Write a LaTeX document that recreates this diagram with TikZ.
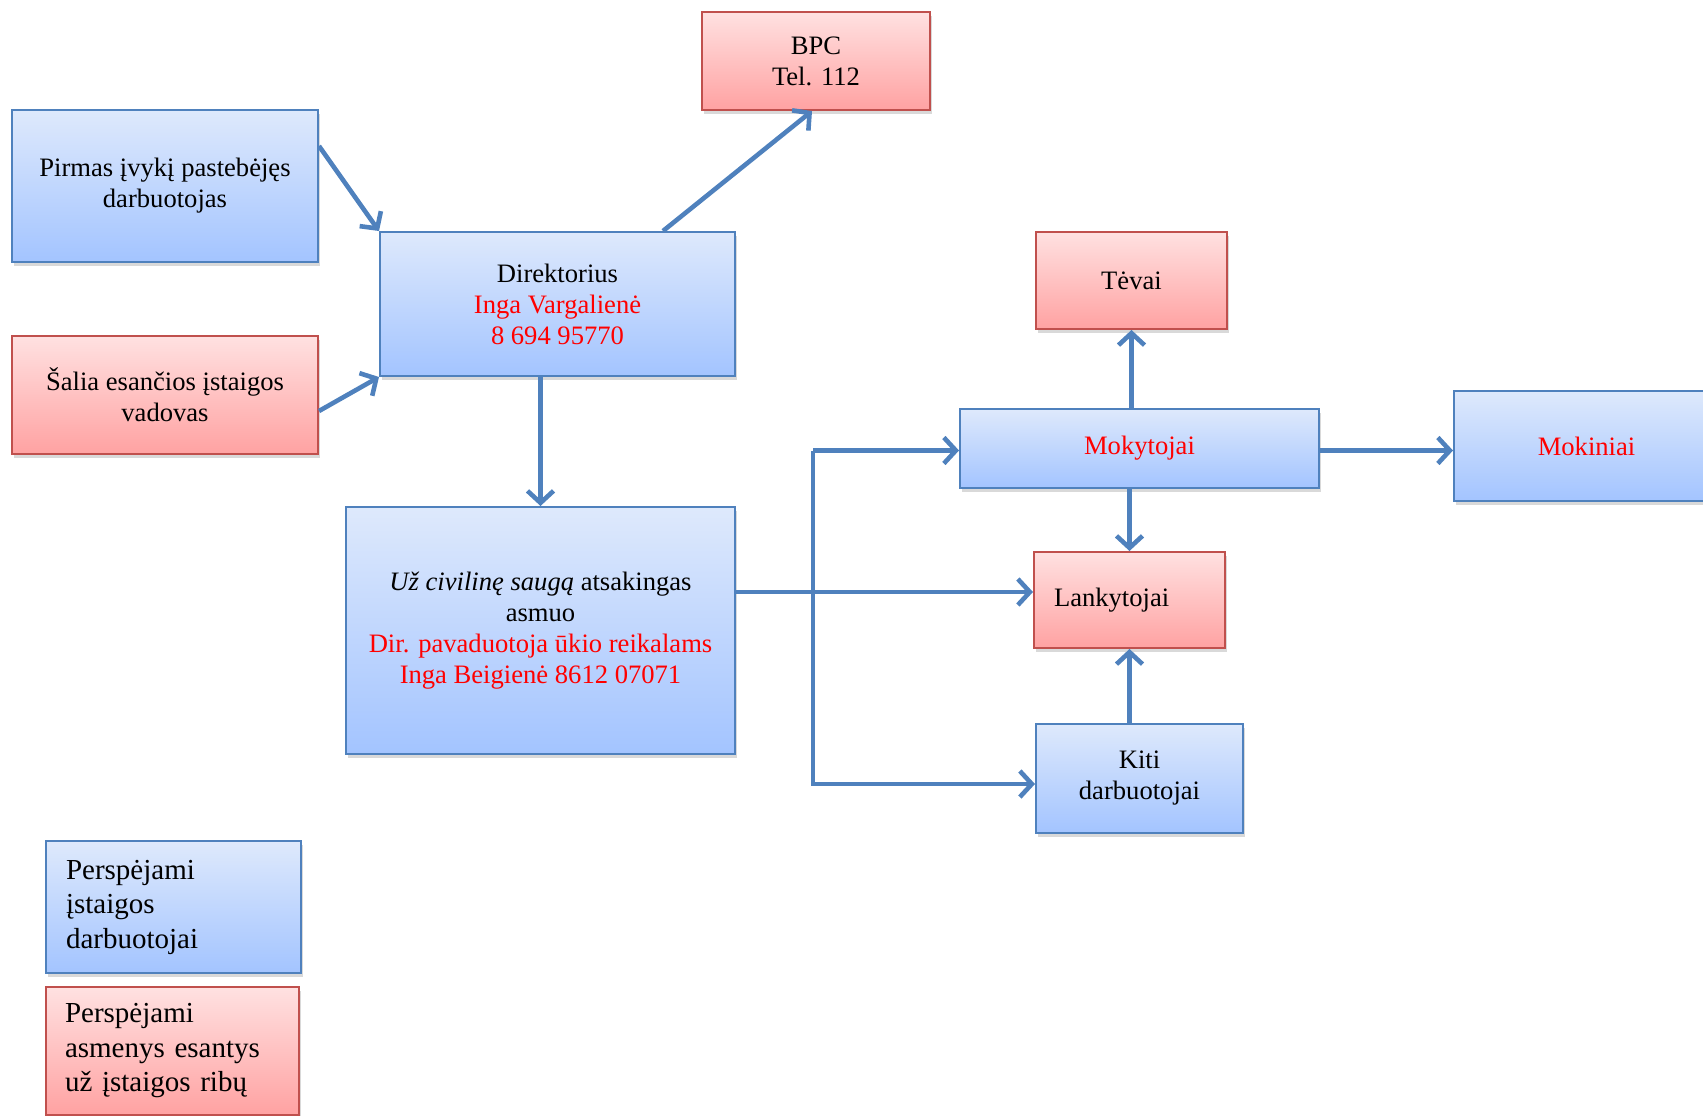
\documentclass[tikz,border=0pt]{standalone}
\usepackage{fontspec}
\setmainfont{Liberation Serif}
\usetikzlibrary{arrows.meta,shadows,calc}
\definecolor{bluefillt}{RGB}{222,233,252}
\definecolor{bluefillb}{RGB}{163,196,255}
\definecolor{blueline}{RGB}{79,129,189}
\definecolor{redfillt}{RGB}{255,225,225}
\definecolor{redfillb}{RGB}{255,162,162}
\definecolor{redline}{RGB}{192,80,77}
\definecolor{txtred}{RGB}{255,0,0}
\definecolor{arrowc}{RGB}{79,129,189}
\tikzset{
 box/.style={draw, line width=2pt, inner sep=0pt,
   drop shadow={opacity=0.3, shadow xshift=2pt, shadow yshift=-4pt},
   font=\fontsize{26.6}{31}\selectfont, align=center},
 bluebox/.style={box, draw=blueline, top color=bluefillt, bottom color=bluefillb},
 redbox/.style={box, draw=redline, top color=redfillt, bottom color=redfillb},
 legend/.style={font=\fontsize{29}{34.5}\selectfont, align=left, text width=215pt},
 arr/.style={draw=arrowc, line width=4.6pt, -{Straight Barb[length=12pt,width=26pt]}},
 sz/.style 2 args={minimum width=#1pt, minimum height=#2pt},
}
\begin{document}
\begin{tikzpicture}[x=1pt,y=-1pt]
\useasboundingbox (0,0) rectangle (1703,1116);
\clip (0,0) rectangle (1703,1116);
% boxes
\node[redbox, sz={228}{98}] (bpc) at (816,61) {BPC\\Tel. 112};
\node[bluebox, sz={306}{152}] (pirmas) at (165,186) {Pirmas įvykį pastebėjęs\\darbuotojas};
\node[bluebox, sz={355}{144}] (dir) at (557.5,304) {Direktorius\\\textcolor{txtred}{Inga Vargalienė}\\\textcolor{txtred}{8 694 95770}};
\node[redbox, sz={306}{118}] (salia) at (165,395) {Šalia esančios įstaigos\\vadovas};
\node[redbox, sz={191}{97}] (tevai) at (1131.5,280.5) {Tėvai};
\node[bluebox, sz={359}{79}] (moky) at (1139.5,448.5) {\textcolor{txtred}{Mokytojai}};
\node[bluebox, sz={265}{110}] (mokin) at (1586.5,446) {\textcolor{txtred}{Mokiniai}};
\node[redbox, sz={191}{96}, align=left, text width=151pt] (lank) at (1129.5,600) {Lankytojai};
\node[bluebox, sz={207}{109}] (kiti) at (1139.5,778.5) {Kiti\\darbuotojai};
\node[bluebox, sz={389}{247}] (uz) at (540.5,630.5) {\textit{Už civilinę saugą} atsakingas\\asmuo\\\textcolor{txtred}{Dir. pavaduotoja ūkio reikalams}\\\textcolor{txtred}{Inga Beigienė 8612 07071}};
\node[bluebox, legend, sz={255}{132}] (leg1) at (173.5,907) {Perspėjami\\įstaigos\\darbuotojai};
\node[redbox, legend, sz={253}{128}] (leg2) at (172.5,1051) {Perspėjami\\asmenys esantys\\už įstaigos ribų};
% connectors
\draw[arr] ([yshift=40pt]pirmas.east) -- (dir.north west);
\draw[arr] ([yshift=-16pt]salia.east) -- (dir.south west);
\draw[arr] ([xshift=105.5pt]dir.north) -- ([xshift=-4pt]bpc.south);
\draw[arr] (dir.south -| uz.north) -- (uz.north);
\draw[arr] ([yshift=8pt]uz.east |- lank.west) -- ([yshift=8pt]lank.west);
\coordinate (b1) at (813,450.5);
\coordinate (b2) at (813,784);
\draw[arr] (b1) -- (b1 -| moky.west);
\draw[arr] (b1) -- (b2) -- (b2 -| kiti.west);
\draw[arr] (moky.north -| tevai.south) -- (tevai.south);
\draw[arr] (moky.south -| lank.north) -- (lank.north);
\draw[arr] (kiti.north -| lank.south) -- (lank.south);
\draw[arr] (moky.east |- b1) -- (mokin.west |- b1);
\end{tikzpicture}
\end{document}
